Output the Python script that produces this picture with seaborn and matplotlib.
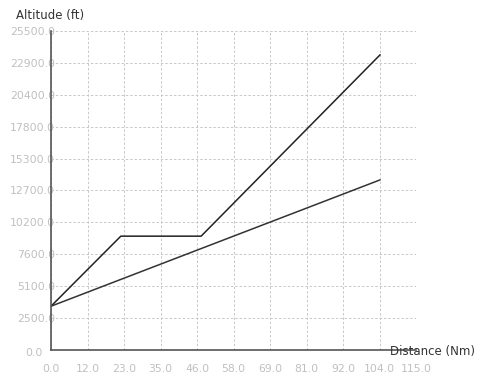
import matplotlib
matplotlib.use("Agg")
import matplotlib.pyplot as plt
import matplotlib.transforms as mtransforms
import seaborn as sns
import pandas as pd
import numpy as np

# Data
climb_dist = [0.0, 22.0, 47.3, 103.7]
climb_alt = [3500, 9100, 9100, 23600]
direct_dist = [0.0, 103.7]
direct_alt = [3500, 13600]

x_ticks = [i * 11.5 for i in range(11)]
x_labels = ["0.0", "12.0", "23.0", "35.0", "46.0", "58.0", "69.0", "81.0", "92.0", "104.0", "115.0"]
y_ticks = [i * 2550 for i in range(11)]
y_labels = ["0.0", "2500.0", "5100.0", "7600.0", "10200.0", "12700.0", "15300.0",
            "17800.0", "20400.0", "22900.0", "25500.0"]

sns.set_theme(style="white")
plt.rcParams['font.family'] = ['DejaVu Sans']

fig = plt.figure(figsize=(4.79, 3.76), dpi=100)
ax = fig.add_axes([51/479, 26/376, 365/479, 319/376])

df1 = pd.DataFrame({"d": climb_dist, "a": climb_alt})
df2 = pd.DataFrame({"d": direct_dist, "a": direct_alt})
sns.lineplot(data=df1, x="d", y="a", ax=ax, color="#222222", linewidth=1.1, sort=False)
sns.lineplot(data=df2, x="d", y="a", ax=ax, color="#333333", linewidth=1.1, sort=False)

ax.set_xlim(0, 115)
ax.set_ylim(0, 25500)
ax.set_xticks(x_ticks)
ax.set_xticklabels(x_labels)
ax.set_yticks(y_ticks)
ax.set_yticklabels(y_labels)
ax.set_xlabel("")
ax.set_ylabel("")
ax.tick_params(axis="both", length=0, labelsize=7.8, colors="#c0c0c0")
ax.tick_params(axis="x", pad=10)
ax.tick_params(axis="y", pad=-3)
ylbls = ax.get_yticklabels()
for lbl in ylbls:
    lbl.set_zorder(0)
off = mtransforms.ScaledTranslation(-13/100, -2/100, fig.dpi_scale_trans)
ylbls[0].set_transform(ylbls[0].get_transform() + off)
ax.grid(True, color="#c8c8c8", linestyle=(0, (2.5, 2)), linewidth=0.7)
for s in ["top", "right"]:
    ax.spines[s].set_visible(False)
for s in ["left", "bottom"]:
    ax.spines[s].set_color("#555555")
    ax.spines[s].set_linewidth(1.2)
ax.set_axisbelow(True)

fig.text(16/479, 1 - 15/376, "Altitude (ft)", fontsize=8.5, color="#333333", va="center", ha="left")
fig.text(390/479, 1 - 351/376, "Distance (Nm)", fontsize=8.5, color="#333333", va="center", ha="left")

fig.savefig("out.png", dpi=100)
